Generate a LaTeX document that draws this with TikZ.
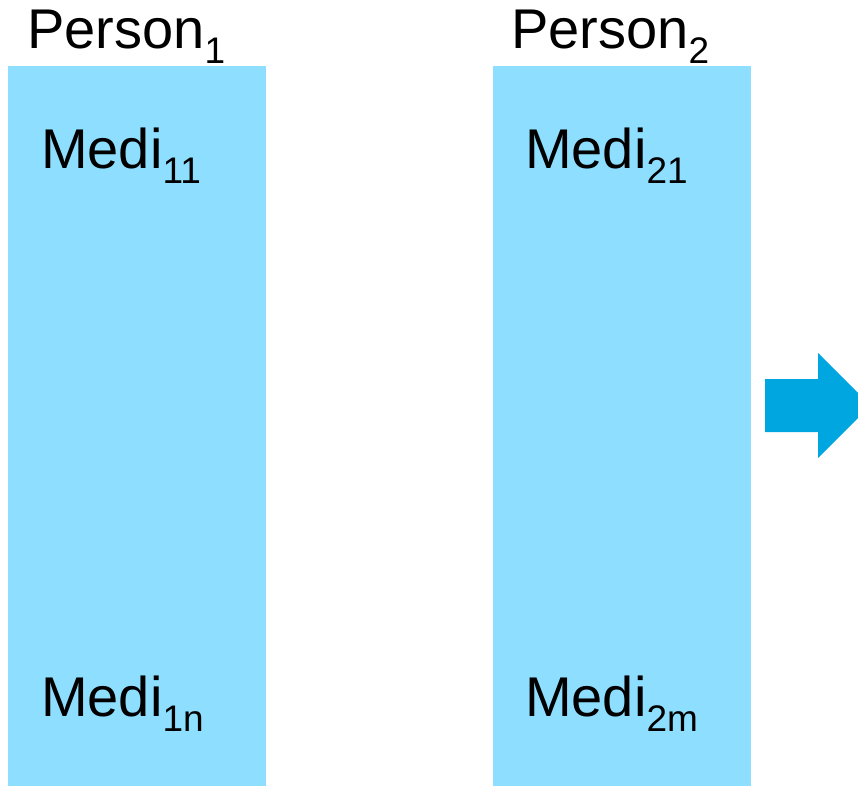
\documentclass[tikz,border=0pt]{standalone}
\usepackage{fontspec}
\setmainfont{Liberation Sans}
\usetikzlibrary{positioning}
\definecolor{boxblue}{RGB}{142,223,255}
\definecolor{arrowblue}{RGB}{0,166,224}
\newcommand{\idx}[1]{\raisebox{-15pt}{\fontsize{37}{37}\selectfont #1}}

\begin{document}
\begin{tikzpicture}[x=1pt,y=-1pt,
	every node/.style={inner sep=0pt,font=\fontsize{56}{60}\selectfont},
	column/.style={fill=boxblue,minimum width=258pt,minimum height=720pt,anchor=north west}]
	\clip (0,0) rectangle (858,786);
	\node[column] (col1) at (8,66) {};
	\node[column] (col2) at (493,66) {};
	\node[anchor=base west] (p1) at (27,49) {Person\idx{1}};
	\node[anchor=base west] (p2) at (511,49) {Person\idx{2}};
	\node[anchor=base west] (m11) at (41,169) {Medi\idx{11}};
	\node[anchor=base west] (m1n) at (41,716) {Medi\idx{1n}};
	\node[anchor=base west] (m21) at (525,169) {Medi\idx{21}};
	\node[anchor=base west] (m2m) at (525,716) {Medi\idx{2m}};
	% arrow, cut off at the right edge
	\fill[arrowblue] (765,379) -- (818,379) -- (818,353) -- (870.5,405.5)
		-- (818,458) -- (818,432) -- (765,432) -- cycle;
\end{tikzpicture}
\end{document}
